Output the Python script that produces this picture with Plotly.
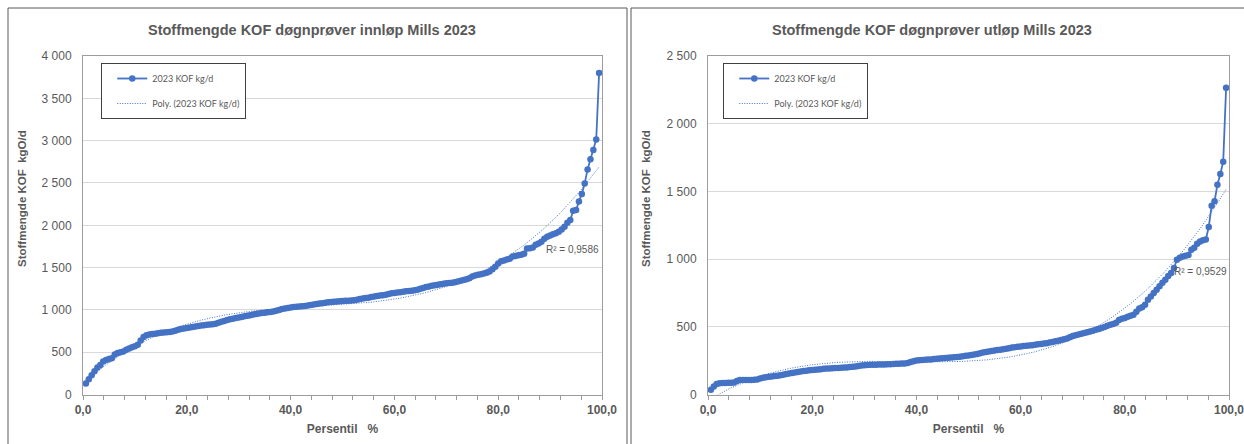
import numpy as np
import plotly.graph_objects as go

# ---------------- text ----------------
title_left = "Stoffmengde KOF døgnprøver innløp Mills 2023"
title_right = "Stoffmengde KOF døgnprøver utløp Mills 2023"
y_title = "Stoffmengde KOF\u00a0 kgO/d"
x_title = "Persentil\u00a0\u00a0 %"
series_name = "2023 KOF kg/d"
trend_name = "Poly. (2023 KOF kg/d)"
r2_left = "R² = 0,9586"
r2_right = "R² = 0,9529"

# ---------------- data (sorted daily loads, kg O/d) ----------------
inlet_kg = [
    130, 180, 230, 275, 320, 350, 390, 410, 420, 430,
    475, 490, 500, 510, 530, 545, 560, 570, 590, 640,
    680, 700, 710, 715, 720, 725, 730, 733, 737, 740,
    745, 755, 765, 775, 782, 788, 792, 798, 805, 810,
    815, 820, 825, 828, 832, 838, 850, 860, 870, 880,
    890, 897, 905, 912, 918, 925, 932, 938, 945, 952,
    958, 965, 968, 972, 976, 982, 990, 1000, 1010, 1018,
    1024, 1030, 1034, 1038, 1040, 1044, 1048, 1052, 1058, 1064,
    1070, 1075, 1080, 1085, 1090, 1095, 1098, 1100, 1102, 1105,
    1108, 1110, 1112, 1115, 1120, 1128, 1135, 1140, 1145, 1152,
    1160, 1165, 1170, 1175, 1180, 1188, 1196, 1200, 1205, 1210,
    1215, 1220, 1224, 1228, 1232, 1240, 1250, 1260, 1270, 1278,
    1285, 1292, 1298, 1305, 1310, 1315, 1318, 1322, 1328, 1335,
    1345, 1355, 1362, 1375, 1395, 1408, 1415, 1422, 1432, 1440,
    1455, 1480, 1510, 1550, 1575, 1585, 1595, 1605, 1630, 1637,
    1645, 1652, 1665, 1725, 1730, 1738, 1770, 1785, 1806, 1840,
    1865, 1880, 1893, 1905, 1924, 1950, 1983, 2030, 2062, 2172,
    2180, 2280, 2370, 2495, 2660, 2780, 2890, 3015, 3800,
]

outlet_kg = [
    35, 60, 78, 84, 85, 86, 87, 88, 90, 100,
    108, 108, 108, 108, 108, 110, 112, 118, 124, 128,
    131, 134, 137, 140, 143, 146, 152, 156, 160, 164,
    167, 170, 174, 177, 180, 182, 184, 186, 188, 190,
    192, 193, 194, 196, 197, 199, 200, 201, 203, 205,
    208, 211, 214, 217, 219, 220, 220, 221, 222, 222,
    223, 224, 225, 226, 227, 228, 229, 230, 233, 240,
    246, 251, 254, 256, 258, 259, 260, 262, 264, 266,
    268, 270, 272, 274, 276, 278, 280, 283, 286, 289,
    292, 296, 300, 305, 310, 314, 318, 322, 326, 329,
    332, 335, 339, 343, 347, 350, 353, 356, 359, 361,
    363, 365, 368, 371, 374, 377, 380, 384, 389, 394,
    398, 403, 408, 415, 424, 432, 439, 444, 449, 454,
    460, 465, 472, 478, 485, 492, 500, 508, 515, 522,
    530, 550, 560, 566, 575, 582, 590, 612, 635, 645,
    663, 700, 725, 750, 775, 800, 825, 848, 875, 898,
    935, 995, 1010, 1020, 1025, 1030, 1070, 1085, 1114, 1131,
    1140, 1145, 1237, 1395, 1427, 1550, 1629, 1720, 2265,
]

x_ticks = [0, 20, 40, 60, 80, 100]
left_y_ticks = [0, 500, 1000, 1500, 2000, 2500, 3000, 3500, 4000]
right_y_ticks = [0, 500, 1000, 1500, 2000, 2500]


def percentiles(values):
    n = len(values)
    return [100.0 * (i + 1) / (n + 1) for i in range(n)]


def poly_trend(x, y, order=3):
    coef = np.polyfit(x, y, order)
    xs = np.linspace(min(x), max(x), 300)
    return xs, np.polyval(coef, xs)


BLUE = "#4472C4"
GRAY_TXT = "#595959"
AXIS_C = "#9c9c9c"
GRID_C = "#d9d9d9"
W, H = 1244, 444

xl = percentiles(inlet_kg)
xr = percentiles(outlet_kg)
txl, tyl = poly_trend(xl, inlet_kg)
txr, tyr = poly_trend(xr, outlet_kg)

MARK = dict(color=BLUE, size=6.5)
LINE = dict(color=BLUE, width=1.8)
TREND = dict(color=BLUE, width=1, dash="1px,1.5px")

fig = go.Figure()
fig.add_trace(go.Scatter(x=xl, y=inlet_kg, mode="lines+markers", name=series_name,
                         line=LINE, marker=MARK,
                         xaxis="x", yaxis="y", legend="legend", legendgroup="a1"))
fig.add_trace(go.Scatter(x=txl, y=tyl, mode="lines", name=trend_name, line=TREND,
                         xaxis="x", yaxis="y", legend="legend", legendgroup="b1"))
fig.add_trace(go.Scatter(x=xr, y=outlet_kg, mode="lines+markers", name=series_name,
                         line=LINE, marker=MARK,
                         xaxis="x2", yaxis="y2", legend="legend2", legendgroup="a2"))
fig.add_trace(go.Scatter(x=txr, y=tyr, mode="lines", name=trend_name, line=TREND,
                         xaxis="x2", yaxis="y2", legend="legend2", legendgroup="b2"))

ydom = [1 - 394.6 / H, 1 - 56 / H]
tickfont_x = dict(family="Liberation Sans", size=12, color=GRAY_TXT, weight="bold")
tickfont_y = dict(family="Liberation Sans", size=12, color=GRAY_TXT)
titlefont = dict(family="Liberation Sans", size=12, color=GRAY_TXT, weight="bold")


def xaxis_cfg(domain, anchor):
    return dict(domain=domain, anchor=anchor, range=[0, 100], tickvals=x_ticks,
                tickformat=".1f", ticks="outside", ticklen=4, tickcolor=AXIS_C,
                showline=True, linecolor=AXIS_C, mirror=True, showgrid=False,
                zeroline=False, tickfont=tickfont_x, automargin=False,
                ticklabeloverflow="allow",
                minor=dict(dtick=4, tick0=0, ticks="outside", ticklen=4,
                           tickcolor=AXIS_C, showgrid=False),
                title=dict(text=x_title, font=titlefont, standoff=8))


def yaxis_cfg(domain, anchor, rng, tickvals):
    return dict(domain=domain, anchor=anchor, range=rng, tickvals=tickvals,
                tickformat=",d", showgrid=True, gridcolor=GRID_C, gridwidth=1,
                showline=True, linecolor=AXIS_C, mirror=True, zeroline=False,
                ticks="", ticklabelstandoff=8, tickfont=tickfont_y, automargin=False)


legend_common = dict(xanchor="left", yanchor="top", bgcolor="white",
                     bordercolor="#404040", borderwidth=1,
                     font=dict(family="Lato", size=9, color=GRAY_TXT),
                     itemwidth=30, tracegroupgap=6, traceorder="grouped",
                     entrywidth=100, entrywidthmode="pixels",
                     title=dict(text="\u00a0", side="left",
                                font=dict(family="Lato", size=1)))


def ytitle(x_px, text):
    return dict(text=text, xref="paper", yref="paper", x=x_px / W, y=1 - 199 / H,
                showarrow=False, textangle=-90, xanchor="center", yanchor="middle",
                font=dict(family="Liberation Sans", size=11.5, color=GRAY_TXT, weight="bold"))


fig.update_layout(
    width=W, height=H, margin=dict(l=0, r=0, t=0, b=0, autoexpand=False),
    paper_bgcolor="white", plot_bgcolor="white",
    separators=", ",
    xaxis=xaxis_cfg([83 / W, 602 / W], "y"),
    yaxis=yaxis_cfg(ydom, "x", [0, 4000], left_y_ticks),
    xaxis2=xaxis_cfg([708 / W, 1229 / W], "y2"),
    yaxis2=yaxis_cfg(ydom, "x2", [0, 2500], right_y_ticks),
    legend=dict(x=101 / W, y=1 - 63 / H, **legend_common),
    legend2=dict(x=723 / W, y=1 - 63 / H, **legend_common),
    showlegend=True,
    shapes=[
        dict(type="rect", xref="paper", yref="paper", x0=8 / W, x1=627 / W,
             y0=-0.1, y1=1 - 8 / H, line=dict(color=GRAY_TXT, width=1)),
        dict(type="rect", xref="paper", yref="paper", x0=631 / W, x1=1.1,
             y0=-0.1, y1=1 - 8 / H, line=dict(color=GRAY_TXT, width=1)),
    ],
    annotations=[
        dict(text=title_left, xref="paper", yref="paper", x=312 / W, y=1 - 30 / H,
             showarrow=False, xanchor="center", yanchor="middle",
             font=dict(family="Liberation Sans", size=14.5, color=GRAY_TXT, weight="bold")),
        dict(text=title_right, xref="paper", yref="paper", x=932 / W, y=1 - 30 / H,
             showarrow=False, xanchor="center", yanchor="middle",
             font=dict(family="Liberation Sans", size=14.5, color=GRAY_TXT, weight="bold")),
        ytitle(22, y_title),
        ytitle(646, y_title),
        dict(text=r2_left, xref="x", yref="y", x=88.8, y=1720, showarrow=False,
             xanchor="left", yanchor="middle",
             font=dict(family="Liberation Sans", size=10, color=GRAY_TXT)),
        dict(text=r2_right, xref="x2", yref="y2", x=89.1, y=907, showarrow=False,
             xanchor="left", yanchor="middle",
             font=dict(family="Liberation Sans", size=10, color=GRAY_TXT)),
    ],
)

fig.write_html(
    "out.html",
    config={"displayModeBar": False},
    post_script="document.body.style.margin='0';document.body.style.overflow='hidden';",
)
